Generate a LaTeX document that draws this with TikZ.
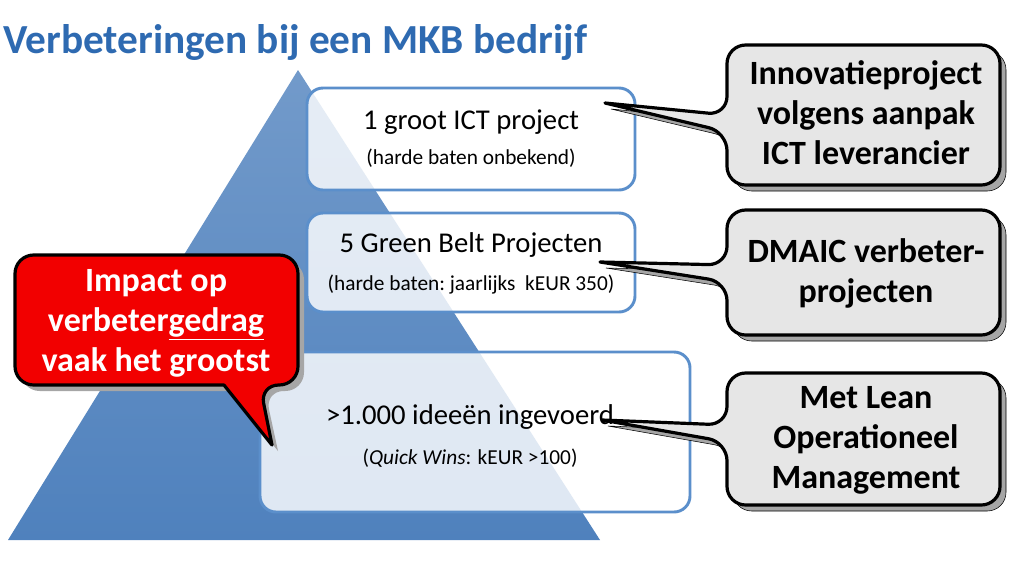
\documentclass[tikz,border=0pt]{standalone}
\usepackage{fontspec}
\setmainfont{Carlito}
\begin{document}
\begin{tikzpicture}[x=0.75pt,y=-0.75pt,
  ttl/.style={font=\bfseries\fontsize{31}{34}\selectfont,text=titleblue,anchor=west,inner sep=0},
  lvl/.style={draw=boxblue,line width=2.2pt,rounded corners=12,fill=white,fill opacity=0.82},
  big/.style={font=\fontsize{21.5}{24}\selectfont,inner sep=0},
  small/.style={font=\fontsize{16}{18}\selectfont,inner sep=0},
  call/.style={draw=black,line width=2.4pt,fill=callgray,line join=round},
  shad/.style={fill=black!35},
  ctext/.style={font=\bfseries\fontsize{25.5}{30}\selectfont,align=center,inner sep=0}]
\definecolor{titleblue}{HTML}{2E6AB1}
\definecolor{triblue}{HTML}{4F81BD}
\definecolor{boxblue}{HTML}{5B8FCB}
\definecolor{callgray}{HTML}{E6E6E6}
\definecolor{callred}{HTML}{F20000}
\useasboundingbox (0,0) rectangle (1013,571);
\node[ttl] (title) at (3,42) {Verbeteringen bij een MKB bedrijf};
% pyramid
\shade[top color=triblue!80,bottom color=triblue] (298,70) -- (600,540) -- (8,540) -- cycle;
% level boxes
\draw[lvl] (307,88) rectangle (635,190);
\draw[lvl] (307,213) rectangle (635,312);
\draw[lvl] (260,352) rectangle (690,512);
\node[big] (l1) at (471,122) {1 groot ICT project};
\node[small] (l1s) at (471,158) {(harde baten onbekend)};
\node[big] (l2) at (471,245) {5 Green Belt Projecten};
\node[small] (l2s) at (471,285) {(harde baten:\ jaarlijks\ \ kEUR 350)};
\node[big] (l3) at (470,417) {>1.000 ideeën ingevoerd};
\node[small] (l3s) at (470,458) {(\textit{Quick Wins}: kEUR >100)};
% callouts right
\foreach \dx/\dy/\c in {6/6/shad,0/0/call}{
\begin{scope}[shift={(\dx*0.75pt,-\dy*0.75pt)}]
\draw[\c,rounded corners=14] (727,115) -- (727,45) -- (1000,45) -- (1000,185) -- (727,185) -- (727,132) [sharp corners] -- (605,103) [rounded corners=14] -- cycle;
\draw[\c,rounded corners=14] (727,265) -- (727,210) -- (1000,210) -- (1000,335) -- (727,335) -- (727,282) [sharp corners] -- (600,262) [rounded corners=14] -- cycle;
\draw[\c,rounded corners=14] (727,425) -- (727,373) -- (1000,373) -- (1000,505) -- (727,505) -- (727,442) [sharp corners] -- (602,420) [rounded corners=14] -- cycle;
\end{scope}}
\node[ctext] (c1) at (866,113) {Innovatieproject\\volgens aanpak\\ICT leverancier};
\node[ctext] (c2) at (866,273) {DMAIC verbeter-\\projecten};
\node[ctext] (c3) at (866,440) {Met Lean\\Operationeel\\Management};
% red callout
\fill[black!35,rounded corners=14] (21,261) -- (304,261) -- (304,391) -- (265,391) [sharp corners] -- (278,451) -- (230,391) [rounded corners=14] -- (21,391) -- cycle;
\draw[call,fill=callred,rounded corners=14] (15,255) -- (298,255) -- (298,385) -- (260,385) [sharp corners] -- (272,445) -- (224,385) [rounded corners=14] -- (15,385) -- cycle;
\node[ctext,text=white] (red) at (156,323) {Impact op\\verbeter\underline{gedrag}\\vaak het grootst};
\end{tikzpicture}
\end{document}
